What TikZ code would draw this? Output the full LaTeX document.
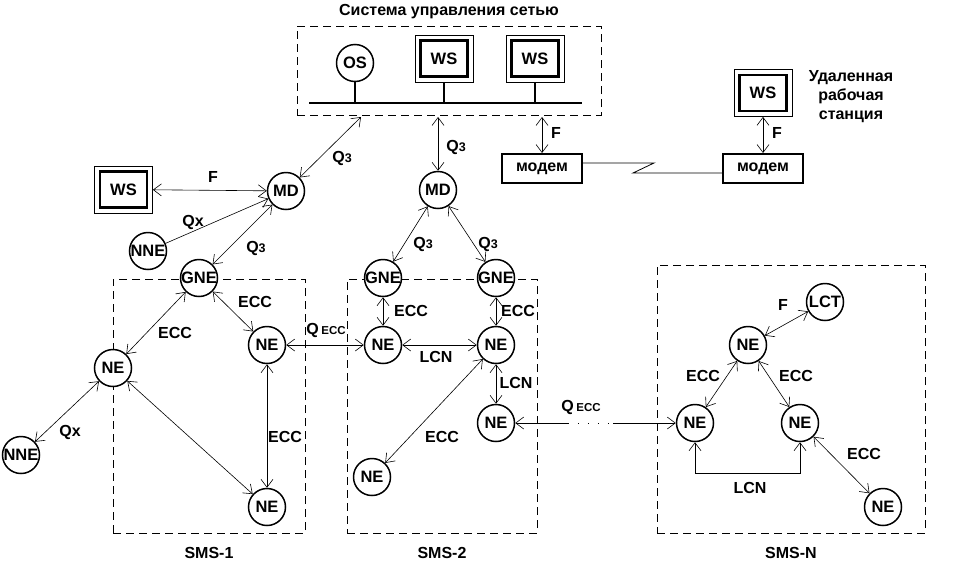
\documentclass[tikz,border=0pt]{standalone}
\usepackage{fontspec}
\setmainfont{Liberation Sans}
\usepackage{tikz}
\usetikzlibrary{positioning,arrows.meta,calc}
\tikzstyle{screen} = [x = 1pt, y = -1pt]
\tikzstyle{unitStyle} = [circle, draw, fill=white, line width=1.5pt, minimum size=37pt, inner sep=0pt, font=\fontsize{16.5}{17}\selectfont\bfseries]
\tikzstyle{wsFrameStyle} = [draw, line width=0.8pt, minimum width=58pt, minimum height=47pt, font=\fontsize{16.5}{17}\selectfont\bfseries]
\tikzstyle{wsInnerStyle} = [line width=2.4pt]
\tikzstyle{modemStyle} = [draw, line width=2pt, minimum width=80pt, minimum height=29pt, inner sep=0pt, font=\fontsize{16}{17}\selectfont\bfseries]
\tikzstyle{areaStyle} = [draw, dash pattern=on 8pt off 5pt, line width=0.8pt]
\tikzstyle{busStyle} = [line width=2.6pt]
\tikzstyle{stubStyle} = [line width=1.8pt]
\tikzstyle{plainLine} = [line width=0.8pt]
\tikzstyle{linkStyle} = [{Straight Barb[length=8pt,width=12pt]}-{Straight Barb[length=8pt,width=12pt]}, line width=0.6pt]
\tikzstyle{linkEnd} = [-{Straight Barb[length=8pt,width=12pt]}, line width=0.6pt]
\tikzstyle{linkStart} = [{Straight Barb[length=8pt,width=12pt]}-, line width=0.6pt]
\tikzstyle{dotLine} = [line width=0.8pt, dash pattern=on 1pt off 9pt]
\tikzstyle{labelText} = [font=\fontsize{16}{17}\selectfont\bfseries]
\newcommand{\smallIdx}[1]{{\fontsize{12.5}{13}\selectfont #1}}
\newcommand{\qEcc}{Q\,{\fontsize{11.5}{12}\selectfont ECC}}
\newcommand{\workStation}[3]{
  \node[wsFrameStyle] (#1) at (#2,#3) {WS};
  \draw[wsInnerStyle] ($(#1.north west)+(6,6)$) rectangle ($(#1.south east)+(-6,-6)$);
}
\newcommand{\unit}[4]{\node[unitStyle] (#1) at (#2,#3) {\makebox[0pt]{#4}};}

\begin{document}
\begin{tikzpicture}[screen]
  \useasboundingbox (0,0) rectangle (964,568);

  \node[areaStyle, minimum width=304pt, minimum height=89pt] (nms) at (449,70.5) {};
  \node[areaStyle, minimum width=192pt, minimum height=254pt] (sms1) at (209,406) {};
  \node[areaStyle, minimum width=190pt, minimum height=254pt] (sms2) at (442,406) {};
  \node[areaStyle, minimum width=268pt, minimum height=268pt] (smsN) at (791,399) {};
  \node[labelText] (nmsTitle) at (449,12) {Система управления сетью};
  \node[labelText] (sms1Title) at (209,553) {SMS-1};
  \node[labelText] (sms2Title) at (442,553) {SMS-2};
  \node[labelText] (smsNTitle) at (791,553) {SMS-N};

  \coordinate (busL) at (309,103);
  \coordinate (busR) at (582,103);
  \draw[busStyle] (busL) -- (busR);
  \unit{os}{355}{63}{OS}
  \workStation{wsA}{444}{58.5}
  \workStation{wsB}{535}{58.5}
  \draw[stubStyle] (os) -- (os |- busL);
  \draw[stubStyle] (wsA) -- (wsA |- busL);
  \draw[stubStyle] (wsB) -- (wsB |- busL);

  \node[modemStyle] (modemA) at (542,168.5) {модем};
  \node[modemStyle] (modemB) at (763,168.5) {модем};
  \workStation{wsRemote}{763}{93}
  \node[labelText, align=center, font=\fontsize{16}{19}\selectfont\bfseries] (remoteText) at (851,97) {Удаленная\\рабочая\\станция};
  \coordinate (zigA) at (654,163);
  \coordinate (zigB) at (633,173);
  \draw[plainLine] (modemA.east |- zigA) -- (zigA) -- (zigB) -- (modemB.west |- zigB);

  \workStation{wsLeft}{123.5}{189.5}
  \unit{mdA}{286}{191}{MD}
  \unit{mdB}{438}{190}{MD}
  \unit{nneA}{148}{251}{NNE}
  \unit{nneB}{21}{455}{NNE}

  \unit{gneA}{199}{278}{GNE}
  \unit{neA}{113}{368}{NE}
  \unit{neB}{267}{345}{NE}
  \unit{neC}{267}{507}{NE}

  \unit{gneB}{383}{278}{GNE}
  \unit{gneC}{496}{278}{GNE}
  \unit{neD}{383}{345}{NE}
  \unit{neE}{496}{345}{NE}
  \unit{neF}{496}{423}{NE}
  \unit{neG}{372}{477}{NE}

  \unit{lct}{825}{302}{LCT}
  \unit{neH}{748}{345}{NE}
  \unit{neI}{695}{423}{NE}
  \unit{neJ}{800}{423}{NE}
  \unit{neK}{883}{507}{NE}

  \coordinate (nmsQa) at (361,117);
  \coordinate (nmsQb) at (438,117);
  \coordinate (nmsF) at (542,117);
  \draw[linkStyle] (nmsQa) -- (mdA);
  \draw[linkStyle] (nmsQb) -- (mdB);
  \draw[linkStyle] (nmsF) -- (modemA);
  \draw[linkStyle] (wsRemote) -- (modemB);
  \draw[linkStyle] (wsLeft) -- (mdA);
  \draw[linkEnd] (nneA) -- (mdA);
  \draw[linkStyle] (gneA) -- (mdA);
  \draw[linkStyle] (gneB) -- (mdB);
  \draw[linkStyle] (gneC) -- (mdB);

  \draw[linkStyle] (gneA) -- (neA);
  \draw[linkStyle] (gneA) -- (neB);
  \draw[linkStyle] (neA) -- (nneB);
  \draw[linkStyle] (neA) -- (neC);
  \draw[linkStyle] (neB) -- (neC);
  \draw[linkStyle] (neB) -- (neD);

  \draw[linkStyle] (gneB) -- (neD);
  \draw[linkStyle] (gneC) -- (neE);
  \draw[linkStyle] (neD) -- (neE);
  \draw[linkStyle] (neE) -- (neF);
  \draw[linkStyle] (neE) -- (neG);

  \coordinate (dotA) at (568,423);
  \coordinate (dotB) at (613,423);
  \draw[linkStart] (neF) -- (dotA);
  \draw[dotLine] (dotA) -- (dotB);
  \draw[linkEnd] (dotB) -- (neI);

  \coordinate (lcnBase) at (0,473);
  \draw[linkStyle] (neI.south) -- (neI.south |- lcnBase) -| (neJ.south);
  \draw[linkStyle] (neH) -- (lct);
  \draw[linkStyle] (neH) -- (neI);
  \draw[linkStyle] (neH) -- (neJ);
  \draw[linkStyle] (neJ) -- (neK);

  \node[labelText] (lblQa) at (342,158) {Q\smallIdx{3}};
  \node[labelText] (lblQb) at (456,147) {Q\smallIdx{3}};
  \node[labelText] (lblFa) at (556,133) {F};
  \node[labelText] (lblFb) at (777,133) {F};
  \node[labelText] (lblFc) at (213,177) {F};
  \node[labelText] (lblQx) at (193,222) {Qx};
  \node[labelText] (lblQc) at (256,248) {Q\smallIdx{3}};
  \node[labelText] (lblQd) at (423,244) {Q\smallIdx{3}};
  \node[labelText] (lblQe) at (488,244) {Q\smallIdx{3}};
  \node[labelText] (lblEa) at (175,333) {ECC};
  \node[labelText] (lblEb) at (255,302) {ECC};
  \node[labelText] (lblQy) at (70,432) {Qx};
  \node[labelText] (lblEc) at (285,437) {ECC};
  \node[labelText] (lblQf) at (326,330) {\qEcc};
  \node[labelText] (lblEd) at (411,311) {ECC};
  \node[labelText] (lblEe) at (518,311) {ECC};
  \node[labelText] (lblLa) at (436,357) {LCN};
  \node[labelText] (lblLb) at (516,383) {LCN};
  \node[labelText] (lblEf) at (442,437) {ECC};
  \node[labelText] (lblQg) at (581,407) {\qEcc};
  \node[labelText] (lblFd) at (783,305) {F};
  \node[labelText] (lblEg) at (703,376) {ECC};
  \node[labelText] (lblEh) at (796,376) {ECC};
  \node[labelText] (lblEi) at (864,454) {ECC};
  \node[labelText] (lblLc) at (750,488) {LCN};
\end{tikzpicture}
\end{document}
